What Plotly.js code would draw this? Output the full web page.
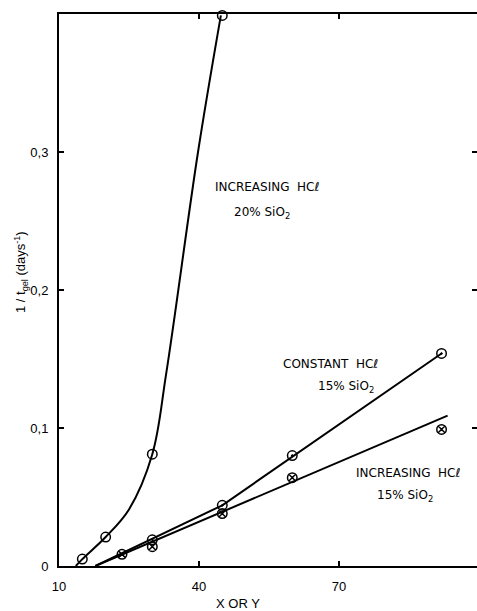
<!DOCTYPE html>
<html>
<head>
<meta charset="utf-8">
<script src="https://cdn.plot.ly/plotly-3.0.1.min.js"></script>
<style>html,body{margin:0;padding:0;background:#fff;overflow:hidden}</style>
</head>
<body>
<div id="chart" style="width:477px;height:611px"></div>
<script>
// ---- data ----
// Increasing HCl, 20% SiO2 (measured points)
const inc20X = [15, 20, 30, 45];
const inc20Y = [0.005, 0.021, 0.081, 0.399];
// hand-drawn curve through them (nodes)
const inc20CurveX = [13.6, 15, 20, 25, 30, 33, 39.8, 44.7];
const inc20CurveY = [0, 0.005, 0.021, 0.041, 0.081, 0.14, 0.3, 0.399];

// Constant HCl, 15% SiO2
const constX = [30, 45, 60, 92];
const constY = [0.019, 0.044, 0.080, 0.154];
const constLineX = [17.8, 45, 92];
const constLineY = [0, 0.044, 0.154];

// Increasing HCl, 15% SiO2
const inc15X = [23.5, 30, 45, 60, 92];
const inc15Y = [0.0085, 0.014, 0.038, 0.064, 0.099];
const inc15LineX = [17.8, 93.3];
const inc15LineY = [0, 0.109];

// ticks
const xTickVals = [10, 40, 70];
const xTickText = ['10', '40', '70'];
const yTickVals = [0, 0.1, 0.2, 0.3];
const yTickText = ['0', '0,1', '0,2', '0,3'];
const rightTickVals = [0.1, 0.2, 0.3];

const FONT = 'DejaVu Sans, Liberation Sans, Arial, sans-serif';
const TICKFONT = 'Liberation Sans, Arial, sans-serif';
const lineStyle = {color: '#000', width: 2};
const markerBase = {size: 9.5, color: '#000', line: {color: '#000', width: 1.5}};

const traces = [
  {x: inc20CurveX, y: inc20CurveY, mode: 'lines', line: Object.assign({shape: 'spline', smoothing: 1}, lineStyle), hoverinfo: 'skip', cliponaxis: false},
  {x: constLineX, y: constLineY, mode: 'lines', line: lineStyle, hoverinfo: 'skip'},
  {x: inc15LineX, y: inc15LineY, mode: 'lines', line: lineStyle, hoverinfo: 'skip'},
  {x: inc20X, y: inc20Y, mode: 'markers', cliponaxis: false,
   marker: Object.assign({}, markerBase, {symbol: 'circle-open'})},
  {x: constX, y: constY, mode: 'markers', cliponaxis: false,
   marker: Object.assign({}, markerBase, {symbol: 'circle-open-dot'})},
  {x: inc15X, y: inc15Y, mode: 'markers', cliponaxis: false,
   marker: Object.assign({}, markerBase, {symbol: 'circle-x-open'})},
  // invisible trace to carry the right-hand tick marks
  {x: [50], y: [0.2], yaxis: 'y2', mode: 'markers', marker: {opacity: 0}, hoverinfo: 'skip'}
];

function lbl(text, x, y) {
  return {text: text, x: x, y: y, xref: 'x', yref: 'y', showarrow: false,
          xanchor: 'center', yanchor: 'middle', font: {family: FONT, size: 12, color: '#000'}};
}

const layout = {
  width: 477, height: 611,
  margin: {l: 59, r: 0, t: 14, b: 45},
  paper_bgcolor: '#fff', plot_bgcolor: '#fff',
  showlegend: false,
  font: {family: FONT, size: 12, color: '#000'},
  xaxis: {
    range: [10, 99.6], tickvals: xTickVals, ticktext: xTickText,
    ticks: 'inside', ticklen: 5, tickwidth: 1.5, tickcolor: '#000',
    showline: true, linewidth: 2, linecolor: '#000', mirror: 'ticks',
    showgrid: false, zeroline: false, ticklabelstandoff: 7,
    tickfont: {family: TICKFONT, size: 13}
  },
  yaxis: {
    range: [0, 0.4], tickvals: yTickVals, ticktext: yTickText,
    ticks: 'inside', ticklen: 5, tickwidth: 1.5, tickcolor: '#000',
    showline: true, linewidth: 2, linecolor: '#000', mirror: false,
    showgrid: false, zeroline: false, ticklabelstandoff: 6,
    tickfont: {family: TICKFONT, size: 13}
  },
  yaxis2: {
    overlaying: 'y', side: 'right', range: [0, 0.4], tickvals: rightTickVals,
    ticks: 'inside', ticklen: 5, tickwidth: 1.5, tickcolor: '#000',
    showticklabels: false, showline: false, showgrid: false, zeroline: false
  },
  annotations: [
    lbl('INCREASING&nbsp;&nbsp;HCℓ', 54.5, 0.2746),
    lbl('20% SiO<sub>2</sub>', 53.5, 0.2558),
    lbl('CONSTANT&nbsp;&nbsp;HCℓ', 68.2, 0.1464),
    lbl('15% SiO<sub>2</sub>', 71.5, 0.1297),
    lbl('INCREASING&nbsp;&nbsp;HCℓ', 84.8, 0.0674),
    lbl('15% SiO<sub>2</sub>', 84.1, 0.0507),
    {text: 'X OR Y', x: 238, y: 603, xref: 'paper', yref: 'paper', showarrow: false,
     font: {family: TICKFONT, size: 13}},
    {text: '1 / t<sub>gel</sub> (days<sup>-1</sup>)', textangle: -90, showarrow: false,
     xref: 'paper', yref: 'paper', xanchor: 'center', yanchor: 'middle',
     font: {family: TICKFONT, size: 13}}
  ]
};

// place the axis-title annotations by pixel position
const plotW = 477 - 59, plotH = 611 - 14 - 45;
layout.annotations[6].x = (238 - 59) / plotW;
layout.annotations[6].y = (611 - 45 - 603) / plotH;
layout.annotations[6].yanchor = 'middle';
layout.annotations[7].x = (21 - 59) / plotW;
layout.annotations[7].y = (611 - 45 - 272) / plotH;

Plotly.newPlot('chart', traces, layout, {staticPlot: true, displayModeBar: false});
</script>
</body>
</html>
